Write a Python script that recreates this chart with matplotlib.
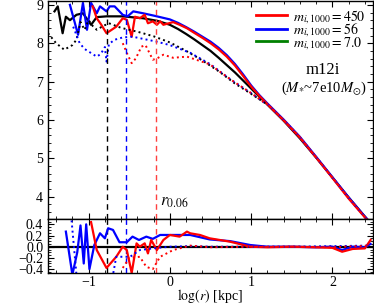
import matplotlib
matplotlib.use("Agg")
import matplotlib.pyplot as plt
from matplotlib.lines import Line2D
from matplotlib.ticker import MultipleLocator

plt.rcParams['font.family'] = ['Liberation Serif', 'DejaVu Serif']
plt.rcParams['mathtext.fontset'] = 'stix'

# ---------------- data: main panel ----------------
blk_x = [-1.42, -1.38, -1.32, -1.28, -1.23, -1.15, -1.07, -1.01, -0.97, -0.9, -0.78, -0.58, -0.33, -0.15,
         0.0, 0.1, 0.2, 0.3, 0.4, 0.5, 0.6, 0.7, 0.8, 0.9, 1.0, 1.2, 1.4, 1.6, 1.8, 2.0, 2.2, 2.4, 2.45]
blk_y = [8.83, 8.96, 8.26, 8.69, 8.6, 8.74, 8.78, 8.6, 8.48, 8.68, 8.7, 8.7, 8.65, 8.58,
         8.48, 8.37, 8.24, 8.1, 7.95, 7.8, 7.62, 7.43, 7.24, 7.03, 6.82, 6.4, 5.98, 5.52, 5.02, 4.5, 3.98, 3.48, 3.36]

blu_x = [-1.23, -1.13, -1.07, -1.02, -0.97, -0.9, -0.86, -0.78, -0.74, -0.68, -0.58, -0.52, -0.45, -0.33, -0.2,
         -0.1, 0.0, 0.1, 0.2, 0.3, 0.4, 0.5, 0.6, 0.7, 0.8, 0.9, 1.0, 1.1, 1.2, 1.4, 1.6, 1.8, 2.0, 2.2, 2.4, 2.45]
blu_y = [9.0, 8.22, 9.05, 8.35, 9.05, 8.78, 8.96, 8.83, 8.96, 8.96, 8.74, 8.7, 8.83, 8.78, 8.72,
         8.67, 8.62, 8.53, 8.42, 8.3, 8.17, 8.04, 7.88, 7.69, 7.46, 7.19, 6.9, 6.65, 6.43, 6.01, 5.56, 5.04, 4.51, 3.98, 3.48, 3.36]

red_x = [-0.95, -0.9, -0.85, -0.78, -0.66, -0.58, -0.53, -0.47, -0.43, -0.37, -0.31, -0.27, -0.21, -0.16, -0.12,
         -0.08, 0.04, 0.12, 0.21, 0.3, 0.4, 0.5, 0.6, 0.7, 0.8, 0.9, 1.0, 1.1, 1.2, 1.4, 1.6, 1.8, 2.0, 2.1, 2.2, 2.4, 2.45]
red_y = [8.96, 8.65, 8.5, 8.26, 8.43, 8.65, 8.61, 8.17, 8.69, 8.65, 8.74, 8.52, 8.57, 8.48, 8.57,
         8.48, 8.55, 8.48, 8.39, 8.27, 8.14, 8.0, 7.84, 7.65, 7.42, 7.15, 6.87, 6.63, 6.41, 5.99, 5.54, 5.02, 4.49, 4.22, 3.95, 3.46, 3.35]

blk_dot_x = [-1.5, -1.4, -1.3, -1.2, -1.15, -1.1, -1.05, -1.0, -0.95, -0.9, -0.82, -0.75, -0.6, -0.4, -0.2,
             0.0, 0.2, 0.4, 0.6, 0.8, 1.0, 1.15, 1.2]
blk_dot_y = [8.26, 8.0, 7.83, 7.95, 8.09, 8.55, 8.35, 8.6, 8.45, 8.35, 8.45, 8.52, 8.4, 8.3, 8.18,
             8.02, 7.8, 7.55, 7.27, 6.95, 6.68, 6.47, 6.4]

blu_dot_x = [-1.19, -1.11, -1.05, -0.9, -0.85, -0.8, -0.78, -0.75, -0.68, -0.58, -0.46, -0.3, -0.16,
             0.0, 0.25, 0.5, 0.75, 1.0, 1.15, 1.2, 1.4, 1.6, 1.8, 2.0, 2.2, 2.4, 2.45]
blu_dot_y = [8.43, 8.0, 7.85, 7.65, 7.72, 7.9, 7.52, 7.98, 8.09, 8.15, 8.17, 8.1, 8.04,
             7.95, 7.75, 7.45, 7.05, 6.7, 6.47, 6.41, 6.0, 5.55, 5.03, 4.5, 3.97, 3.47, 3.35]

red_dot_x = [-0.58, -0.52, -0.47, -0.42, -0.35, -0.3, -0.21, -0.16, -0.08, 0.04, 0.21, 0.49,
             0.75, 1.0, 1.15, 1.2, 1.4, 1.6, 1.8, 2.0, 2.2, 2.4, 2.45]
red_dot_y = [8.0, 7.7, 7.48, 7.6, 7.91, 7.95, 7.57, 7.6, 7.7, 7.62, 7.65, 7.45,
             7.05, 6.7, 6.47, 6.41, 6.0, 5.55, 5.03, 4.5, 3.97, 3.47, 3.36]

# radii r_0.06 (log kpc) for the three runs
r006_blk = -0.78
r006_blu = -0.535
r006_red = -0.165

# ---------------- data: residual panel ----------------
res_blu_x = [-1.28, -1.2, -1.14, -1.1, -1.06, -1.03, -0.99, -0.93, -0.86, -0.8, -0.76, -0.7, -0.62, -0.53,
             -0.46, -0.38, -0.29, -0.21, -0.12, 0.0, 0.25, 0.49, 0.74, 0.99, 1.2, 1.5, 1.8, 2.0, 2.12, 2.25, 2.4, 2.47]
res_blu_y = [0.27, -0.5, -0.1, 0.38, -0.3, 0.4, -0.4, 0.03, 0.24, 0.15, 0.33, 0.3, 0.08, 0.08,
             0.18, 0.12, 0.18, 0.14, 0.21, 0.21, 0.21, 0.13, 0.1, 0.03, 0.0, 0.0, -0.01, 0.0, -0.06, 0.0, -0.01, 0.05]

res_red_x = [-0.97, -0.9, -0.78, -0.66, -0.58, -0.53, -0.47, -0.43, -0.41, -0.37, -0.31, -0.27, -0.23, -0.16,
             -0.08, 0.0, 0.12, 0.21, 0.25, 0.37, 0.49, 0.74, 0.99, 1.2, 1.5, 1.8, 2.0, 2.12, 2.25, 2.4, 2.47]
res_red_y = [0.44, -0.06, -0.38, -0.18, 0.0, -0.06, -0.47, -0.12, 0.06, 0.0, 0.06, -0.12, 0.12, -0.06,
             0.12, 0.21, 0.18, 0.27, 0.24, 0.21, 0.15, 0.09, 0.0, -0.01, 0.0, -0.01, -0.02, -0.09, -0.04, -0.03, 0.12]

res_blu_dot_x = [-1.21, -1.15, -0.7, -0.66, -0.49, -0.37, -0.21, 0.0, 0.25, 0.5, 1.0, 1.5, 2.0, 2.45]
res_blu_dot_y = [0.47, -0.5, -0.5, -0.18, -0.18, -0.06, -0.03, 0.0, 0.01, 0.0, 0.0, 0.0, 0.01, 0.02]

res_red_dot_x = [-0.58, -0.5, -0.37, -0.29, -0.21, -0.12, -0.04, 0.04, 0.25, 0.5, 1.0, 1.5, 2.0, 2.45]
res_red_dot_y = [-0.38, -0.2, -0.18, -0.36, -0.4, -0.18, -0.12, -0.06, 0.02, -0.01, 0.0, 0.0, -0.01, 0.02]

zero_ref = 0.0

legend_labels = [r'$m_{i,1000}=450$', r'$m_{i,1000}=56$', r'$m_{i,1000}=7.0$']
legend_colors = ['red', 'blue', 'green']

# ---------------- figure ----------------
W, H = 374, 307
fig = plt.figure(figsize=(W / 100, H / 100), dpi=100)
ax = fig.add_axes([48 / W, 1 - 219.3 / H, 325 / W, 218.3 / H])
axr = fig.add_axes([48 / W, 1 - 273 / H, 325 / W, 53.7 / H], sharex=ax)

lw = 1.6
ax.plot(blk_x, blk_y, color='black', lw=lw)
ax.plot(blu_x, blu_y, color='blue', lw=lw)
ax.plot(red_x, red_y, color='red', lw=lw)
ax.plot(blk_dot_x, blk_dot_y, color='black', lw=1.4, ls=':')
ax.plot(blu_dot_x, blu_dot_y, color='blue', lw=1.4, ls=':')
ax.plot(red_dot_x, red_dot_y, color='red', lw=1.4, ls=':')

for a in (ax, axr):
    a.axvline(r006_blk, color='black', ls='--', lw=1.0, dashes=(4, 3))
    a.axvline(r006_blu, color='blue', ls='--', lw=1.0, dashes=(4, 3))
    a.axvline(r006_red, color='#ff4040', ls='--', lw=1.0, dashes=(4, 3))

ax.text(-0.12, 3.86, r'$r_{0.06}$', fontsize=12, ha='left', va='center')

ax.set_xlim(-1.5, 2.5)
ax.set_ylim(3.41, 9.1)

handles = [Line2D([0], [0], color=c, lw=2) for c in legend_colors]
ax.legend(handles, legend_labels, loc='upper right', frameon=False, fontsize=10,
          handlelength=2.2, handletextpad=0.5, labelspacing=-0.3, borderaxespad=0.2,
          borderpad=0.3)
ax.text(0.846, 0.684, 'm12i', transform=ax.transAxes, fontsize=12, ha='center', va='center')
ax.text(0.85, 0.60, r'($M_{*}$~7e10$M_{\odot}$)', transform=ax.transAxes, fontsize=10.5,
        ha='center', va='center')

axr.axhline(zero_ref, color='black', lw=1.6)
axr.plot(res_blu_x, res_blu_y, color='blue', lw=lw)
axr.plot(res_red_x, res_red_y, color='red', lw=lw)
axr.plot(res_blu_dot_x, res_blu_dot_y, color='blue', lw=1.4, ls=':')
axr.plot(res_red_dot_x, res_red_dot_y, color='red', lw=1.4, ls=':')
axr.set_ylim(-0.47, 0.49)
axr.set_yticks([-0.4, -0.2, 0.0, 0.2, 0.4])
axr.yaxis.set_minor_locator(MultipleLocator(0.05))
axr.set_xlabel(r'$\log(r)$ [kpc]', fontsize=10, labelpad=-1)

ax.xaxis.set_major_locator(MultipleLocator(1))
ax.xaxis.set_minor_locator(MultipleLocator(0.2))
ax.yaxis.set_major_locator(MultipleLocator(1))
ax.yaxis.set_minor_locator(MultipleLocator(0.2))

for a in (ax, axr):
    a.tick_params(which='both', direction='in', top=True, right=True, labelsize=10)
    a.tick_params(which='major', length=4.5, width=0.8)
    a.tick_params(which='minor', length=2.2, width=0.6)
    for s in a.spines.values():
        s.set_linewidth(1.0)
ax.tick_params(labelbottom=False)
axr.tick_params(axis='x', pad=2)

fig.savefig('out.png', dpi=100)
